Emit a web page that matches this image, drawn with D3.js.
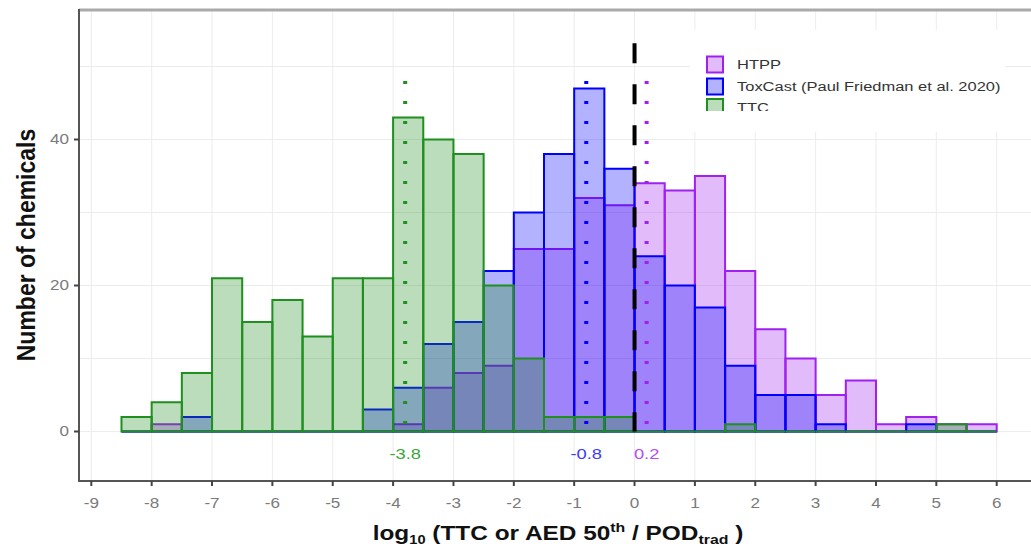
<!DOCTYPE html>
<html lang="en">
<head>
<meta charset="utf-8">
<script src="https://d3js.org/d3.v7.min.js"></script>
<style>
  body { margin: 0; background: #fff; }
  svg { display: block; font-family: "Liberation Sans", Arial, sans-serif; }
  .tick-lbl { fill: #7a7a7a; font-size: 14px; }
  .axis-title { font-weight: bold; fill: #111; }
  .legend-lbl { font-size: 13.5px; fill: #333; }
</style>
</head>
<body>
<svg id="chart" width="1031" height="550"></svg>
<script>
// bin left edges, width 0.5
var binStarts = [-8.5,-8,-7.5,-7,-6.5,-6,-5.5,-5,-4.5,-4,-3.5,-3,-2.5,-2,-1.5,-1,-0.5,0,0.5,1,1.5,2,2.5,3,3.5,4,4.5,5,5.5];
var binWidth = 0.5;

var htpp    = [0,1,0,0,0,0,0,0,0,1,6,8,9,25,25,32,31,34,33,35,22,14,10,5,7,1,2,1,1];
var toxcast = [0,0,2,0,0,0,0,0,3,6,12,15,22,30,38,47,36,24,20,17,9,5,5,1,0,0,1,0,0];
var ttc     = [2,4,8,21,15,18,13,21,21,43,40,38,20,10,2,2,2,0,0,0,1,0,0,0,0,0,0,1,0];

var seriesNames = ["HTPP", "ToxCast (Paul Friedman et al. 2020)", "TTC"];
var seriesColors = ["#a020f0", "#0000ff", "#1f8f1f"];
var medians = [0.2, -0.8, -3.8];
var medianLabels = ["0.2", "-0.8", "-3.8"];

var xTicks = [-9,-8,-7,-6,-5,-4,-3,-2,-1,0,1,2,3,4,5,6];
var yTicks = [0, 20, 40];
var yGrid = [0, 10, 20, 30, 40, 50];

var svg = d3.select("#chart");
var panel = {left: 79, top: 10, right: 1040, bottom: 481};
var sx = 1.22; // the reference text is rendered a bit wide

var x = d3.scaleLinear().domain([-9, 6]).range([91.3, 996.7]);
var y = d3.scaleLinear().domain([0, 40]).range([431.5, 139.5]);

function at(px, py) { return "translate(" + px + "," + py + ") scale(" + sx + ",1)"; }

svg.append("rect").attr("width", 1031).attr("height", 550).attr("fill", "#fff");

// grid
svg.append("g").selectAll("line").data(xTicks).enter().append("line")
  .attr("x1", function(d) { return x(d); }).attr("x2", function(d) { return x(d); })
  .attr("y1", panel.top).attr("y2", panel.bottom)
  .attr("stroke", "#ececec").attr("stroke-width", 1);
svg.append("g").selectAll("line").data(yGrid).enter().append("line")
  .attr("x1", panel.left).attr("x2", panel.right)
  .attr("y1", function(d) { return y(d); }).attr("y2", function(d) { return y(d); })
  .attr("stroke", "#ececec").attr("stroke-width", 1);

// legend background hides grid behind it
svg.append("rect").attr("x", 690).attr("y", 30).attr("width", 315).attr("height", 102).attr("fill", "#fff");

// bars
var all = [htpp, toxcast, ttc];
all.forEach(function(vals, si) {
  svg.append("g").selectAll("path").data(vals).enter().append("path")
    .attr("d", function(d, i) {
      var x0 = x(binStarts[i]), x1 = x(binStarts[i] + binWidth);
      var y0 = y(0), y1 = y(d);
      return "M" + x0 + "," + y0 + "V" + y1 + "H" + x1 + "V" + y0 + "Z";
    })
    .attr("fill", seriesColors[si]).attr("fill-opacity", 0.3)
    .attr("stroke", seriesColors[si]).attr("stroke-width", 2);
});

// medians (dotted) and zero line (dashed), drawn top-down
medians.forEach(function(m, i) {
  svg.append("line")
    .attr("x1", x(m)).attr("x2", x(m))
    .attr("y1", y(48)).attr("y2", y(0))
    .attr("stroke", seriesColors[i]).attr("stroke-width", 4)
    .attr("stroke-dasharray", "3,17");
  svg.append("text")
    .attr("transform", at(x(m), y(-3)))
    .attr("text-anchor", "middle").attr("dy", "0.35em")
    .style("font-size", "15px")
    .attr("fill", i == 2 ? "#3aa63a" : (i == 1 ? "#3a3aff" : "#b24ef2"))
    .text(medianLabels[i]);
});
svg.append("line")
  .attr("x1", x(0)).attr("x2", x(0))
  .attr("y1", y(53.2)).attr("y2", y(0))
  .attr("stroke", "#000").attr("stroke-width", 4)
  .attr("stroke-dasharray", "20,21");

// panel border
svg.append("line").attr("x1", panel.left).attr("x2", panel.right)
  .attr("y1", panel.top).attr("y2", panel.top)
  .attr("stroke", "#aaa").attr("stroke-width", 3);
svg.append("line").attr("x1", panel.left).attr("x2", panel.left)
  .attr("y1", panel.top - 1).attr("y2", panel.bottom)
  .attr("stroke", "#555").attr("stroke-width", 2);
svg.append("line").attr("x1", panel.left - 1).attr("x2", panel.right)
  .attr("y1", panel.bottom).attr("y2", panel.bottom)
  .attr("stroke", "#555").attr("stroke-width", 2);

// axes ticks + labels
var xa = svg.append("g");
xa.selectAll("line").data(xTicks).enter().append("line")
  .attr("x1", function(d) { return x(d); }).attr("x2", function(d) { return x(d); })
  .attr("y1", panel.bottom).attr("y2", panel.bottom + 5)
  .attr("stroke", "#444").attr("stroke-width", 2);
xa.selectAll("text").data(xTicks).enter().append("text")
  .attr("class", "tick-lbl")
  .attr("transform", function(d) { return at(x(d), 508); })
  .attr("text-anchor", "middle")
  .text(function(d) { return d; });

var ya = svg.append("g");
ya.selectAll("line").data(yTicks).enter().append("line")
  .attr("x1", panel.left - 5).attr("x2", panel.left)
  .attr("y1", function(d) { return y(d); }).attr("y2", function(d) { return y(d); })
  .attr("stroke", "#444").attr("stroke-width", 2);
ya.selectAll("text").data(yTicks).enter().append("text")
  .attr("class", "tick-lbl")
  .attr("transform", function(d) { return at(panel.left - 10, y(d)); })
  .attr("dy", "0.35em").attr("text-anchor", "end")
  .text(function(d) { return d; });

// axis titles
svg.append("text").attr("class", "axis-title")
  .attr("transform", "translate(35,245) rotate(-90) scale(1,1.15)")
  .attr("text-anchor", "middle")
  .style("font-size", "23px")
  .text("Number of chemicals");

var xt = svg.append("text").attr("class", "axis-title")
  .attr("transform", at(558, 540))
  .attr("text-anchor", "middle")
  .style("font-size", "20px");
xt.append("tspan").text("log");
xt.append("tspan").attr("dy", 4).style("font-size", "12px").text("10");
xt.append("tspan").attr("dy", -4).text(" (TTC or AED 50");
xt.append("tspan").attr("dy", -8).style("font-size", "13px").text("th");
xt.append("tspan").attr("dy", 8).text(" / POD");
xt.append("tspan").attr("dy", 4).style("font-size", "13px").text("trad");
xt.append("tspan").attr("dy", -4).text(" )");

// legend (bottom row is cut off as in the source)
svg.append("clipPath").attr("id", "legclip").append("rect")
  .attr("x", 690).attr("y", 30).attr("width", 330).attr("height", 81);
var leg = svg.append("g").attr("clip-path", "url(#legclip)");
var rowY = [64.5, 86.5, 107];
seriesNames.forEach(function(name, i) {
  leg.append("rect")
    .attr("x", 707).attr("y", rowY[i] - 8).attr("width", 16).attr("height", 16)
    .attr("fill", seriesColors[i]).attr("fill-opacity", 0.3)
    .attr("stroke", seriesColors[i]).attr("stroke-width", 2);
  leg.append("text").attr("class", "legend-lbl")
    .attr("transform", at(737, rowY[i]))
    .attr("dy", "0.35em")
    .text(name);
});
</script>
</body>
</html>
